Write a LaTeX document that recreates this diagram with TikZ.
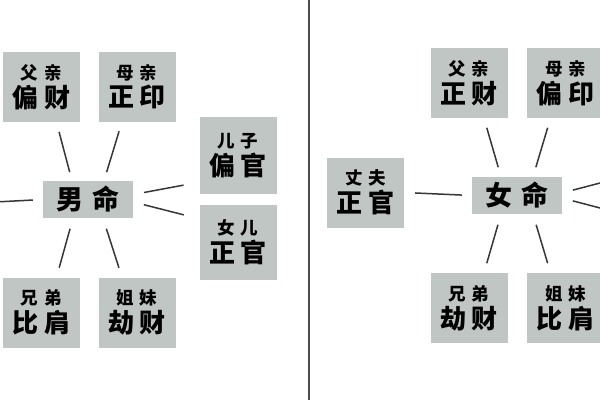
\documentclass[tikz,border=0pt]{standalone}
\usepackage{fontspec}
\newfontfamily\cjk{Noto Sans CJK SC}
\definecolor{boxgray}{RGB}{192,198,196}
\definecolor{linegray}{RGB}{55,55,55}
\newcommand{\cell}[4]{{\fontsize{17.5}{19}\selectfont #1\hspace{6pt}#2}\\[3pt]{\fontsize{26}{28}\selectfont #3\hspace{6pt}#4}}

\begin{document}
\begin{tikzpicture}[x=1pt,y=-1pt,
    box/.style={fill=boxgray, minimum width=77, minimum height=70, inner sep=0, align=center, font=\cjk\bfseries},
    self/.style={box, minimum width=90, minimum height=37},
    spoke/.style={draw=linegray, line width=1.5pt}]
    \fill[white] (0,0) rectangle (600,400);
    \useasboundingbox (0,0) rectangle (600,400);
    \draw   [draw=linegray!90, line width=1.8pt] (309,0) -- (309,400);

    \node[self] (nan) at (88,199.5) {\fontsize{27}{28}\selectfont 男\hspace{10pt}命};
    \node[box] (fuL) at (41.5,87) {\cell{父}{亲}{偏}{财}};
    \node[box] (muL) at (137,86.5) {\cell{母}{亲}{正}{印}};
    \node[box, minimum height=77] (erzi) at (238,155.5) {\cell{儿}{子}{偏}{官}};
    \node[box, minimum height=75] (nver) at (238,242.5) {\cell{女}{儿}{正}{官}};
    \node[box] (xdL) at (41.5,312.5) {\cell{兄}{弟}{比}{肩}};
    \node[box] (jmL) at (137,312.5) {\cell{姐}{妹}{劫}{财}};
    \coordinate (lend) at (-5,202);

    \node[self] (nv) at (517,195.5) {\fontsize{27}{28}\selectfont 女\hspace{10pt}命};
    \node[box] (fuR) at (469,83) {\cell{父}{亲}{正}{财}};
    \node[box] (muR) at (565.5,83) {\cell{母}{亲}{偏}{印}};
    \node[box] (zf) at (365.5,192.5) {\cell{丈}{夫}{正}{官}};
    \node[box] (xdR) at (469,308) {\cell{兄}{弟}{劫}{财}};
    \node[box] (jmR) at (565.5,308) {\cell{姐}{妹}{比}{肩}};
    \coordinate (rA) at (620,177.8);
    \coordinate (rB) at (620,213.2);

    \draw   [spoke, shorten <=10, shorten >=9] ([xshift=15]fuL.south) -- ([xshift=-16]nan.north);
    \draw   [spoke, shorten <=10, shorten >=9] ([xshift=-15]muL.south) -- ([xshift=16]nan.north);
    \draw   [spoke, shorten <=11, shorten >=10] ([xshift=-15]nan.south) -- ([xshift=15]xdL.north);
    \draw   [spoke, shorten <=11, shorten >=10] ([xshift=15]nan.south) -- ([xshift=-15]jmL.north);
    \draw   [spoke, shorten <=11, shorten >=16] ([yshift=5]nan.east) -- ([yshift=12]erzi.south west);
    \draw   [spoke, shorten <=11, shorten >=16] ([yshift=-2.5]nan.east) -- ([yshift=-14]nver.north west);
    \draw   [spoke, shorten <=10] (nan.west) -- (lend);

    \draw   [spoke, shorten <=10, shorten >=10] ([xshift=15]fuR.south) -- ([xshift=-16]nv.north);
    \draw   [spoke, shorten <=10, shorten >=10] ([xshift=-15]muR.south) -- ([xshift=16]nv.north);
    \draw   [spoke, shorten <=11, shorten >=10] ([xshift=-16]nv.south) -- ([xshift=15]xdR.north);
    \draw   [spoke, shorten <=11, shorten >=10] ([xshift=16]nv.south) -- ([xshift=-15]jmR.north);
    \draw   [spoke, shorten <=11, shorten >=10] (zf.east) -- (nv.west);
    \draw   [spoke, shorten <=11] ([yshift=2.6]nv.east) -- (rA);
    \draw   [spoke, shorten <=11] ([yshift=-2.6]nv.east) -- (rB);
\end{tikzpicture}
\end{document}
